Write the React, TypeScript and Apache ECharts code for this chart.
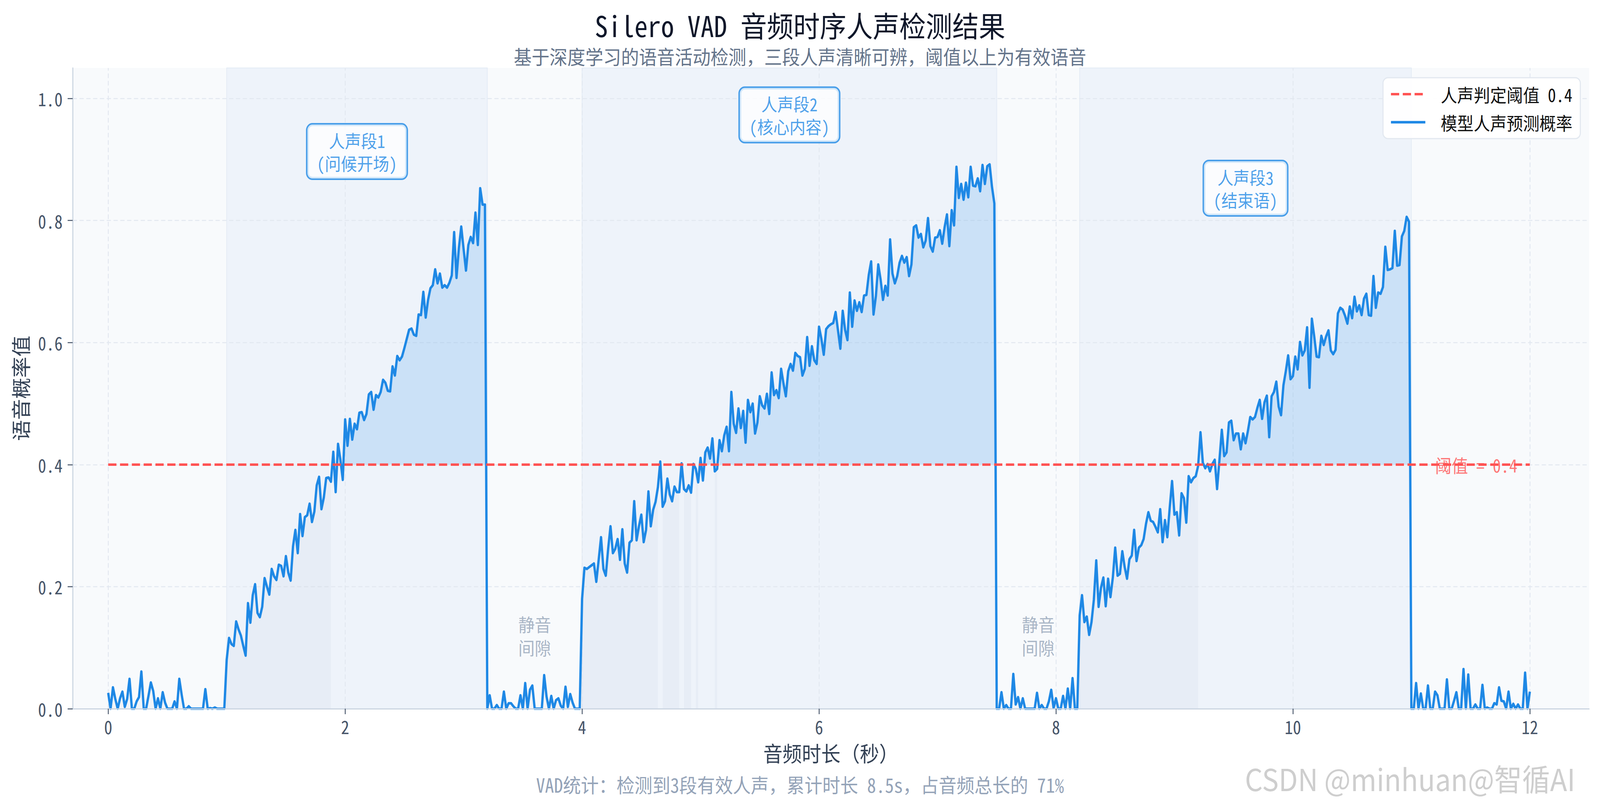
import React, { useEffect, useRef } from 'react';
import * as echarts from 'echarts';

// ---------- data ----------
const STEP = 0.02; // seconds between model frames
const THRESHOLD = 0.4;
const THRESHOLD_X = [0, 12];

// t = 0.00 .. 0.98
const SILENCE_A = [
  0.026, 0, 0.035, 0.016, 0, 0.017, 0.028, 0.003, 0.016, 0.049,
  0, 0, 0.012, 0.019, 0.061, 0, 0, 0.021, 0.043, 0.029,
  0, 0.017, 0, 0.027, 0.010, 0, 0, 0, 0.012, 0,
  0.049, 0.023, 0, 0, 0.004, 0, 0, 0, 0, 0,
  0, 0.032, 0, 0.001, 0, 0.002, 0, 0, 0, 0,
];
// t = 1.00 .. 3.18
const SPEECH_1 = [
  0.080, 0.116, 0.106, 0.103, 0.143, 0.130, 0.120, 0.103, 0.087, 0.173,
  0.141, 0.186, 0.204, 0.157, 0.150, 0.167, 0.214, 0.200, 0.187, 0.229,
  0.217, 0.211, 0.236, 0.234, 0.217, 0.250, 0.223, 0.210, 0.266, 0.293,
  0.255, 0.319, 0.283, 0.314, 0.317, 0.336, 0.306, 0.323, 0.366, 0.380,
  0.327, 0.346, 0.378, 0.379, 0.372, 0.421, 0.355, 0.434, 0.408, 0.375,
  0.474, 0.431, 0.475, 0.441, 0.467, 0.458, 0.485, 0.486, 0.473, 0.483,
  0.515, 0.519, 0.490, 0.514, 0.510, 0.519, 0.539, 0.534, 0.521, 0.520,
  0.561, 0.546, 0.578, 0.571, 0.577, 0.591, 0.606, 0.621, 0.623, 0.613,
  0.611, 0.646, 0.645, 0.683, 0.641, 0.670, 0.689, 0.694, 0.720, 0.697,
  0.713, 0.690, 0.694, 0.690, 0.698, 0.710, 0.781, 0.706, 0.755, 0.790,
  0.753, 0.718, 0.760, 0.773, 0.763, 0.813, 0.760, 0.853, 0.826, 0.826,
];
// t = 3.20 .. 3.98
const SILENCE_B = [
  0, 0.022, 0, 0, 0.006, 0, 0, 0.028, 0, 0.009,
  0.009, 0.004, 0, 0, 0.022, 0, 0.042, 0, 0.031, 0.038,
  0, 0, 0, 0, 0.055, 0.020, 0, 0.021, 0, 0.014,
  0.017, 0.005, 0, 0.036, 0.003, 0.024, 0.010, 0, 0, 0,
];
// t = 4.00 .. 7.48
const SPEECH_2 = [
  0.180, 0.231, 0.229, 0.232, 0.235, 0.238, 0.208, 0.244, 0.281, 0.229,
  0.218, 0.262, 0.299, 0.255, 0.262, 0.278, 0.244, 0.294, 0.238, 0.223,
  0.272, 0.276, 0.340, 0.276, 0.299, 0.318, 0.273, 0.293, 0.356, 0.299,
  0.326, 0.339, 0.363, 0.405, 0.331, 0.340, 0.377, 0.351, 0.340, 0.364,
  0.355, 0.355, 0.402, 0.360, 0.356, 0.366, 0.354, 0.401, 0.393, 0.371,
  0.411, 0.374, 0.420, 0.428, 0.410, 0.443, 0.389, 0.393, 0.440, 0.422,
  0.448, 0.462, 0.422, 0.519, 0.467, 0.452, 0.492, 0.460, 0.488, 0.436,
  0.506, 0.486, 0.500, 0.451, 0.469, 0.512, 0.497, 0.492, 0.516, 0.483,
  0.551, 0.514, 0.522, 0.509, 0.557, 0.533, 0.512, 0.553, 0.565, 0.554,
  0.583, 0.578, 0.576, 0.546, 0.557, 0.609, 0.562, 0.594, 0.571, 0.565,
  0.626, 0.606, 0.580, 0.622, 0.627, 0.630, 0.632, 0.650, 0.620, 0.590,
  0.652, 0.621, 0.604, 0.682, 0.626, 0.669, 0.652, 0.666, 0.650, 0.677,
  0.678, 0.711, 0.733, 0.646, 0.676, 0.728, 0.703, 0.670, 0.693, 0.677,
  0.769, 0.713, 0.697, 0.709, 0.731, 0.742, 0.731, 0.740, 0.709, 0.728,
  0.789, 0.792, 0.772, 0.778, 0.756, 0.767, 0.804, 0.758, 0.749, 0.772,
  0.773, 0.784, 0.762, 0.789, 0.810, 0.758, 0.817, 0.792, 0.888, 0.837,
  0.860, 0.834, 0.862, 0.838, 0.888, 0.857, 0.856, 0.869, 0.848, 0.891,
  0.860, 0.889, 0.892, 0.855, 0.828,
];
// t = 7.50 .. 8.18
const SILENCE_C = [
  0, 0, 0.027, 0, 0.006, 0, 0, 0.057, 0.007, 0.019,
  0, 0.017, 0, 0, 0, 0, 0, 0.026, 0, 0.006,
  0, 0, 0.012, 0.031, 0.001, 0.017, 0, 0, 0.021, 0,
  0.033, 0, 0.050, 0, 0,
];
// t = 8.20 .. 10.98
const SPEECH_3 = [
  0.153, 0.186, 0.142, 0.151, 0.121, 0.142, 0.179, 0.243, 0.167, 0.198,
  0.215, 0.168, 0.213, 0.183, 0.215, 0.264, 0.218, 0.221, 0.258, 0.232,
  0.213, 0.245, 0.251, 0.293, 0.242, 0.264, 0.268, 0.278, 0.303, 0.322,
  0.308, 0.306, 0.298, 0.289, 0.327, 0.273, 0.309, 0.281, 0.329, 0.373,
  0.318, 0.322, 0.284, 0.353, 0.345, 0.305, 0.381, 0.371, 0.378, 0.381,
  0.398, 0.453, 0.403, 0.394, 0.401, 0.389, 0.401, 0.408, 0.360, 0.408,
  0.457, 0.414, 0.420, 0.469, 0.472, 0.440, 0.451, 0.451, 0.425, 0.451,
  0.435, 0.455, 0.478, 0.474, 0.478, 0.493, 0.506, 0.475, 0.502, 0.513,
  0.445, 0.512, 0.519, 0.536, 0.495, 0.481, 0.530, 0.553, 0.579, 0.540,
  0.545, 0.577, 0.556, 0.601, 0.579, 0.587, 0.625, 0.526, 0.639, 0.610,
  0.577, 0.576, 0.611, 0.596, 0.610, 0.620, 0.587, 0.581, 0.588, 0.648,
  0.657, 0.654, 0.644, 0.631, 0.659, 0.640, 0.675, 0.651, 0.661, 0.645,
  0.672, 0.680, 0.645, 0.644, 0.709, 0.657, 0.682, 0.680, 0.691, 0.757,
  0.719, 0.720, 0.722, 0.783, 0.726, 0.727, 0.774, 0.783, 0.806, 0.798,
];
// t = 11.00 .. 12.00
const SILENCE_D = [
  0, 0, 0.042, 0, 0.025, 0, 0, 0.038, 0, 0,
  0.028, 0.022, 0, 0, 0, 0.048, 0, 0, 0.013, 0.027,
  0, 0, 0.065, 0, 0.056, 0, 0, 0.007, 0, 0,
  0.039, 0, 0.002, 0, 0, 0.009, 0.007, 0.035, 0.013, 0.012,
  0, 0.028, 0, 0.008, 0, 0.007, 0, 0, 0.059, 0,
  0.028,
];

const BAND_START = [1.0, 4.0, 8.2];
const BAND_END = [3.2, 7.5, 11.0];
const X_TICKS = [0, 2, 4, 6, 8, 10, 12];
const Y_TICKS = [0, 0.2, 0.4, 0.6, 0.8, 1.0];

const ANNOT_X = [2.1, 5.75, 9.6];
const ANNOT_Y = [0.913, 0.973, 0.853];
const ANNOT_TEXT = ['人声段1\n(问候开场)', '人声段2\n(核心内容)', '人声段3\n(结束语)'];
const GAP_X = [3.6, 7.85];
const GAP_Y = [0.12, 0.12];
const GAP_TEXT = '静音\n间隙';
const THR_LABEL_X = 11.2;
const THR_LABEL = '阈值 = 0.4';

const TITLE = 'Silero VAD 音频时序人声检测结果';
const SUBTITLE = '基于深度学习的语音活动检测，三段人声清晰可辨，阈值以上为有效语音';
const X_NAME = '音频时长（秒）';
const Y_NAME = '语音概率值';
const NAME_LINE = '模型人声预测概率';
const NAME_THR = '人声判定阈值 0.4';
const FOOTNOTE = 'VAD统计：检测到3段有效人声，累计时长 8.5s，占音频总长的 71%';
const WATERMARK = 'CSDN @minhuan@智循AI';

// ---------- derived ----------
const PROB: number[] = ([] as number[]).concat(
  SILENCE_A, SPEECH_1, SILENCE_B, SPEECH_2, SILENCE_C, SPEECH_3, SILENCE_D
);
const TIME = PROB.map((_, i) => Math.round(i * STEP * 100) / 100);

const FONT = "'Noto Sans Mono CJK SC', 'DejaVu Sans Mono', 'Noto Sans CJK SC', monospace";
const BLUE = '#1E88E5';
const RED = '#FF5252';
const W = 4470;
const H = 2059;

function buildOption(): any {
  const lineData = TIME.map((t, i) => [t, PROB[i]]);
  const upperFill = TIME.map((t, i) => [t, PROB[i] >= THRESHOLD ? PROB[i] : '-']);
  const lowerFill = TIME.map((t, i) => [t, PROB[i] < THRESHOLD ? PROB[i] : '-']);

  return {
    animation: false,
    backgroundColor: '#ffffff',
    textStyle: { fontFamily: FONT },
    title: [
      {
        text: TITLE,
        left: 'center',
        top: 21,
        textStyle: { fontSize: 74, lineHeight: 74, fontWeight: 'normal', color: '#0f172a', fontFamily: FONT },
      },
      {
        text: SUBTITLE,
        left: 'center',
        top: 113,
        textStyle: { fontSize: 50, lineHeight: 50, fontWeight: 'normal', color: '#64748b', fontFamily: FONT },
      },
    ],
    legend: {
      orient: 'vertical',
      right: 55,
      top: 199,
      data: [NAME_THR, NAME_LINE],
      itemWidth: 96,
      itemHeight: 20,
      itemGap: 20,
      padding: [16, 22, 16, 19],
      backgroundColor: 'rgba(255,255,255,0.92)',
      borderColor: '#e2e8f0',
      borderWidth: 3,
      borderRadius: 14,
      itemStyle: { color: 'transparent', borderWidth: 0, opacity: 0 },
      lineStyle: { width: 'inherit', type: 'inherit', opacity: 1 },
      textStyle: { fontSize: 46, lineHeight: 52, color: '#111111', fontFamily: FONT, padding: [0, 0, 0, 38] },
    },
    grid: {
      left: 203,
      right: 30.5,
      top: 174,
      bottom: 244,
      show: true,
      backgroundColor: '#f8fafc',
      borderWidth: 0,
      containLabel: false,
      outerBoundsMode: 'none',
    },
    xAxis: {
      type: 'value',
      min: -0.3,
      max: 12.5,
      z: 7,
      name: X_NAME,
      nameLocation: 'middle',
      nameGap: 86,
      nameTextStyle: { fontSize: 54, color: '#334155', fontFamily: FONT },
      axisLine: { show: true, onZero: false, lineStyle: { color: '#cbd5e1', width: 3 } },
      axisTick: { show: true, length: 14, customValues: X_TICKS, lineStyle: { color: '#475569', width: 2.5 } },
      axisLabel: {
        customValues: X_TICKS,
        margin: 22,
        fontSize: 46,
        color: '#475569',
        fontFamily: FONT,
        formatter: (v: number) => String(v),
      },
      splitLine: { show: false },
    },
    yAxis: {
      type: 'value',
      min: 0,
      max: 1.05,
      z: 7,
      name: Y_NAME,
      nameLocation: 'middle',
      nameRotate: 90,
      nameGap: 120,
      nameTextStyle: { fontSize: 54, color: '#334155', fontFamily: FONT },
      axisLine: { show: true, onZero: false, lineStyle: { color: '#cbd5e1', width: 3 } },
      axisTick: { show: true, length: 14, customValues: Y_TICKS, lineStyle: { color: '#475569', width: 2.5 } },
      axisLabel: {
        customValues: Y_TICKS,
        margin: 28,
        fontSize: 46,
        color: '#475569',
        fontFamily: FONT,
        formatter: (v: number) => v.toFixed(1),
      },
      splitLine: { show: false },
    },
    series: [
      {
        name: 'lowerFill',
        type: 'line',
        data: lowerFill,
        symbol: 'none',
        silent: true,
        z: 3,
        lineStyle: { width: 0, opacity: 0 },
        areaStyle: { color: 'rgba(120,140,175,0.08)', origin: 0 },
        markArea: {
          silent: true,
          z: 1,
          itemStyle: { color: '#eef3fa', borderColor: '#e3ebf5', borderWidth: 2 },
          data: BAND_START.map((s, i) => [{ xAxis: s }, { xAxis: BAND_END[i] }]),
        },
        markLine: {
          silent: true,
          z: 2,
          symbol: ['none', 'none'],
          label: { show: false },
          lineStyle: { color: '#e2e8f0', width: 2.5, type: [12, 7] },
          data: [
            ...X_TICKS.map((v) => ({ xAxis: v })),
            ...Y_TICKS.map((v) => ({ yAxis: v })),
          ],
        },
      },
      {
        name: 'upperFill',
        type: 'line',
        data: upperFill,
        symbol: 'none',
        silent: true,
        z: 3,
        lineStyle: { width: 0, opacity: 0 },
        areaStyle: { color: 'rgba(30,136,229,0.24)', origin: THRESHOLD },
      },
      {
        name: NAME_LINE,
        type: 'line',
        data: lineData,
        symbol: 'none',
        z: 4,
        color: BLUE,
        lineStyle: { color: BLUE, width: 6.5, join: 'round' },
      },
      {
        name: NAME_THR,
        type: 'line',
        data: THRESHOLD_X.map((x) => [x, THRESHOLD]),
        symbol: 'none',
        z: 5,
        color: RED,
        lineStyle: { color: RED, width: 6.25, type: [23, 10] },
      },
      {
        name: 'annotations',
        type: 'scatter',
        symbolSize: 0.01,
        itemStyle: { color: 'transparent' },
        silent: true,
        z: 8,
        data: ANNOT_X.map((x, i) => [x, ANNOT_Y[i]]),
        label: {
          show: true,
          position: 'inside',
          formatter: (p: any) => ANNOT_TEXT[p.dataIndex],
          color: BLUE,
          fontSize: 45,
          lineHeight: 58,
          fontFamily: FONT,
          align: 'center',
          backgroundColor: 'rgba(255,255,255,0.95)',
          borderColor: BLUE,
          borderWidth: 4,
          borderRadius: 14,
          padding: [11, 26, 11, 26],
        },
      },
      {
        name: 'gaps',
        type: 'scatter',
        symbolSize: 0.01,
        itemStyle: { color: 'transparent' },
        silent: true,
        z: 8,
        data: GAP_X.map((x, i) => [x, GAP_Y[i]]),
        label: {
          show: true,
          position: 'inside',
          formatter: () => GAP_TEXT,
          color: '#94a3b8',
          fontSize: 46,
          lineHeight: 60,
          fontFamily: FONT,
          align: 'center',
        },
      },
      {
        name: 'thrLabel',
        type: 'scatter',
        symbolSize: 0.01,
        itemStyle: { color: 'transparent' },
        silent: true,
        z: 8,
        data: [[THR_LABEL_X, THRESHOLD]],
        label: {
          show: true,
          position: 'right',
          distance: 0,
          formatter: () => THR_LABEL,
          color: RED,
          fontSize: 46,
          fontFamily: FONT,
        },
      },
    ],
    graphic: [
      {
        type: 'text',
        x: W / 2,
        y: 2008,
        style: {
          text: FOOTNOTE,
          fill: '#94a3b8',
          font: `50px ${FONT}`,
          align: 'center',
          verticalAlign: 'middle',
        },
      },
      {
        type: 'text',
        x: 3478,
        y: 1992,
        style: {
          text: WATERMARK,
          fill: 'rgba(190,190,190,0.75)',
          font: `78px 'Noto Sans CJK SC', 'Noto Sans', sans-serif`,
          align: 'left',
          verticalAlign: 'middle',
        },
      },
    ],
  };
}

export default function App() {
  const ref = useRef<HTMLDivElement>(null);

  useEffect(() => {
    const el = ref.current;
    if (!el) return;
    // fit the 4470x2059 drawing into whatever viewport the browser actually gives
    const vw = document.documentElement.clientWidth || window.innerWidth || W;
    const vh = document.documentElement.clientHeight || window.innerHeight || H;
    el.style.transform = `scale(${vw / W}, ${vh / H})`;
    const chart = echarts.init(el, undefined, { renderer: 'svg', width: W, height: H });
    chart.setOption(buildOption());
    return () => chart.dispose();
  }, []);

  return (
    <div
      ref={ref}
      style={{
        position: 'fixed',
        left: 0,
        top: 0,
        width: W,
        height: H,
        background: '#ffffff',
        transformOrigin: '0 0',
      }}
    />
  );
}
